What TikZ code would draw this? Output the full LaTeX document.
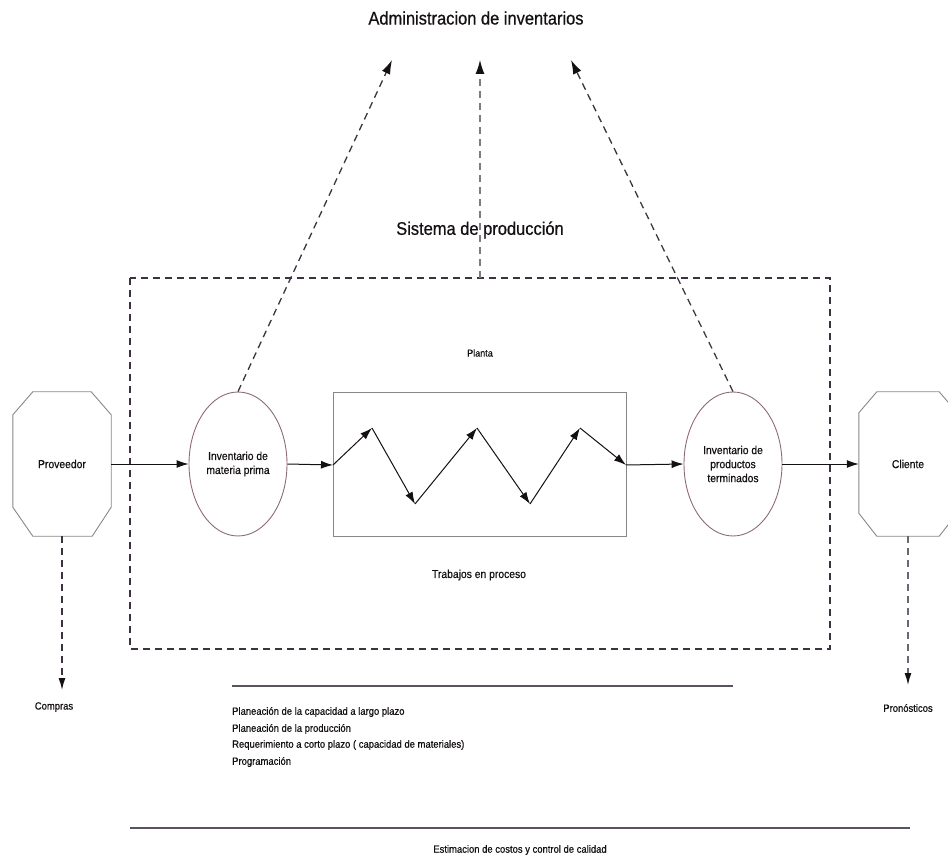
\documentclass[tikz,border=0pt]{standalone}
\usepackage{fontspec}
\setmainfont[FakeStretch=0.9,FakeBold=0.6]{Liberation Sans}
\usetikzlibrary{arrows.meta,shapes.geometric}
\definecolor{ink}{HTML}{141014}
\definecolor{dashink}{HTML}{3D3340}
\definecolor{ovalline}{HTML}{8C6B72}
\definecolor{boxline}{HTML}{8A8588}
\begin{document}
\begin{tikzpicture}[x=1pt,y=-1pt,
  txt/.style={inner sep=0pt,text=ink},
  bigtxt/.style={txt,font=\fontsize{18.3}{20}\selectfont},
  midtxt/.style={txt,font=\fontsize{11.5}{14}\selectfont,align=center},
  smalltxt/.style={txt,font=\fontsize{10.5}{12}\selectfont},
  stockoval/.style={ellipse,draw=ovalline,line width=0.9pt,minimum width=98pt,minimum height=144pt,inner sep=0pt,midtxt},
  octbox/.style={draw=boxline,line width=0.9pt},
  anchorbox/.style={minimum width=98pt,minimum height=144pt,inner sep=0pt,midtxt},
  flow/.style={ink,line width=1pt,-{Latex[length=12pt,width=8pt]}},
  dashflow/.style={dashink,line width=1.3pt,dash pattern=on 7pt off 5pt,-{Latex[length=14pt,width=9pt,color=ink]}},
  dropflow/.style={dashink,line width=1.3pt,dash pattern=on 7pt off 5pt,-{Latex[length=12pt,width=7pt,color=ink]}},
  dashframe/.style={dashink,line width=1.3pt,dash pattern=on 7pt off 5pt},
  rule/.style={line width=1.2pt,draw=dashink!85}
]
\useasboundingbox (0,0) rectangle (948,866);

% headings
\node[bigtxt] (admin) at (476,18) {Administracion de inventarios};
\node[bigtxt] (sistema) at (480,230) {Sistema de producción};

% production system frame
\draw[dashframe] (130,278) rectangle (830,649);
\coordinate (frametop) at (480,278);

% supplier and customer
\node[anchorbox] (prov) at (62,464) {Proveedor};
\draw[octbox] ([xshift=20pt]prov.north west) -- ([xshift=-20pt]prov.north east)
  -- ([yshift=-23pt]prov.north east) -- ([yshift=29pt]prov.south east)
  -- ([xshift=-19pt]prov.south east) -- ([xshift=20pt]prov.south west)
  -- ([yshift=29pt]prov.south west) -- ([yshift=-23pt]prov.north west) -- cycle;
\node[anchorbox] (cli) at (908,464) {Cliente};
\draw[octbox] ([xshift=18pt]cli.north west) -- ([xshift=-18pt]cli.north east)
  -- ([yshift=-21pt]cli.north east) -- ([yshift=23pt]cli.south east)
  -- ([xshift=-18pt]cli.south east) -- ([xshift=18pt]cli.south west)
  -- ([yshift=23pt]cli.south west) -- ([yshift=-21pt]cli.north west) -- cycle;

% inventories
\node[stockoval] (mp) at (238,464) {Inventario de\\materia prima};
\node[stockoval] (pt) at (733,464) {Inventario de\\productos\\terminados};

% plant with work in process
\node[draw=boxline,line width=0.9pt,minimum width=293pt,minimum height=144pt,inner sep=0pt] (plant) at (479.5,464) {};
\node[txt,font=\fontsize{10}{12}\selectfont] (planta) at (480,353) {Planta};
\node[midtxt] (wip) at (479,575) {Trabajos en proceso};
\coordinate (z0) at (333,465);
\coordinate (z1) at (372,428);
\coordinate (z2) at (415,504);
\coordinate (z3) at (477,428);
\coordinate (z4) at (530,504);
\coordinate (z5) at (580,428);
\coordinate (z6) at (626,465);
\draw[flow] (z0) -- (z1);
\draw[flow] (z1) -- (z2);
\draw[flow] (z2) -- (z3);
\draw[flow] (z3) -- (z4);
\draw[flow] (z4) -- (z5);
\draw[flow] (z5) -- (z6);

% material flow
\draw[flow] (prov.east) -- (mp.west);
\draw[flow] (mp.east) -- (z0);
\draw[flow] (z6) -- (pt.west);
\draw[flow] (pt.east) -- (cli.west);

% links to inventory management
\coordinate (upleft) at (392,60);
\coordinate (upmid) at (480,60);
\coordinate (upright) at (571,60);
\draw[dashflow] (mp.north) -- (upleft);
\draw[dashflow,dashink!65] (frametop) -- (upmid);
\draw[dashflow] (pt.north) -- (upright);

% purchasing and forecasting
\node[smalltxt] (compras) at (54,707) {Compras};
\node[smalltxt] (pron) at (908,708) {Pronósticos};
\coordinate (buyend) at (62,690);
\coordinate (fcend) at (908,685);
\draw[dropflow] (prov.south) -- (buyend);
\draw[dropflow,dashink!75] (cli.south) -- (fcend);

% planning activities
\coordinate (r1a) at (232,686);
\coordinate (r1b) at (733,686);
\draw[rule] (r1a) -- (r1b);
\node[smalltxt,anchor=west] (p1) at (232,712) {Planeación de la capacidad a largo plazo};
\node[smalltxt,anchor=west] (p2) at (232,729) {Planeación de la producción};
\node[smalltxt,anchor=west] (p3) at (232,745) {Requerimiento a corto plazo ( capacidad de materiales)};
\node[smalltxt,anchor=west] (p4) at (232,762) {Programación};

% cost and quality
\coordinate (r2a) at (130,828);
\coordinate (r2b) at (910,828);
\draw[rule] (r2a) -- (r2b);
\node[smalltxt] (costos) at (520,850) {Estimacion de costos y control de calidad};
\end{tikzpicture}
\end{document}
